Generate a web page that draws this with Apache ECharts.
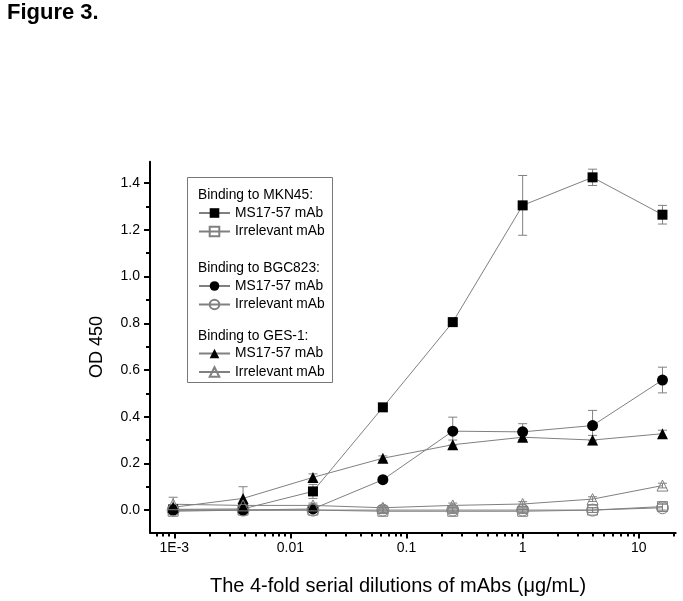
<!DOCTYPE html>
<html><head><meta charset="utf-8">
<script src="https://cdn.jsdelivr.net/npm/echarts@6/dist/echarts.min.js"></script>
<style>html,body{margin:0;padding:0;background:#fff}#c{width:683px;height:601px}</style>
</head><body><div id="c"></div>
<script>
// ---- data ----
const xValues = [0.0009765625, 0.00390625, 0.015625, 0.0625, 0.25, 1, 4, 16];

const mkn45Ms17      = [0.003, 0.005, 0.08, 0.44, 0.805, 1.305, 1.425, 1.265];
const mkn45Ms17Err   = [0.006, 0.006, 0.03, 0.008, 0.01, 0.128, 0.035, 0.04];
const mkn45Irr       = [-0.005, 0.0, 0.0, -0.005, -0.005, -0.005, 0.0, 0.015];
const mkn45IrrErr    = [0.01, 0.008, 0.008, 0.01, 0.01, 0.01, 0.01, 0.015];

const bgc823Ms17     = [0.0, 0.0, 0.005, 0.13, 0.338, 0.335, 0.362, 0.557];
const bgc823Ms17Err  = [0.005, 0.005, 0.005, 0.01, 0.06, 0.035, 0.065, 0.055];
const bgc823Irr      = [0.0, 0.0, 0.0, 0.0, 0.0, 0.0, 0.0, 0.01];
const bgc823IrrErr   = [0.01, 0.01, 0.01, 0.01, 0.01, 0.01, 0.01, 0.015];

const ges1Ms17       = [0.012, 0.05, 0.14, 0.222, 0.28, 0.312, 0.3, 0.327];
const ges1Ms17Err    = [0.005, 0.05, 0.015, 0.01, 0.02, 0.01, 0.02, 0.015];
const ges1Irr        = [0.025, 0.02, 0.02, 0.01, 0.02, 0.026, 0.047, 0.105];
const ges1IrrErr     = [0.03, 0.01, 0.01, 0.01, 0.01, 0.01, 0.01, 0.01];

const xMajorTicks = [0.001, 0.01, 0.1, 1, 10];
const xMinorTicks = [0.0007, 0.0008, 0.0009,
  0.002, 0.003, 0.004, 0.005, 0.006, 0.007, 0.008, 0.009,
  0.02, 0.03, 0.04, 0.05, 0.06, 0.07, 0.08, 0.09,
  0.2, 0.3, 0.4, 0.5, 0.6, 0.7, 0.8, 0.9,
  2, 3, 4, 5, 6, 7, 8, 9, 20];
const yMajorTicks = [0, 0.2, 0.4, 0.6, 0.8, 1.0, 1.2, 1.4];
const yMinorTicks = [0.1, 0.3, 0.5, 0.7, 0.9, 1.1, 1.3];

const groupHeaders = ['Binding to MKN45:', 'Binding to BGC823:', 'Binding to GES-1:'];
const itemLabels = ['MS17-57 mAb', 'Irrelevant mAb'];

// ---- chart ----
const FONT = 'Arial, "Liberation Sans", sans-serif';
const GRAY = '#808080';

function pairs(ys, es) { return xValues.map((x, i) => es ? [x, ys[i], es[i]] : [x, ys[i]]); }

const seriesDefs = [
  {name: 'MKN45|' + itemLabels[0], y: mkn45Ms17, e: mkn45Ms17Err, symbol: 'rect', size: 10, filled: true},
  {name: 'MKN45|' + itemLabels[1], y: mkn45Irr, e: mkn45IrrErr, symbol: 'rect', size: 10, filled: false},
  {name: 'BGC823|' + itemLabels[0], y: bgc823Ms17, e: bgc823Ms17Err, symbol: 'circle', size: 11, filled: true},
  {name: 'BGC823|' + itemLabels[1], y: bgc823Irr, e: bgc823IrrErr, symbol: 'circle', size: 12, filled: false},
  {name: 'GES1|' + itemLabels[0], y: ges1Ms17, e: ges1Ms17Err, symbol: 'triangle', size: 11, filled: true},
  {name: 'GES1|' + itemLabels[1], y: ges1Irr, e: ges1IrrErr, symbol: 'triangle', size: 11, filled: false}
];

function errRender(params, api) {
  const x = api.value(0), y = api.value(1), e = api.value(2);
  const top = api.coord([x, y + e]);
  const bot = api.coord([x, y - e]);
  const hw = 4.5;
  const st = {stroke: GRAY, lineWidth: 1};
  return {type: 'group', children: [
    {type: 'line', shape: {x1: top[0], y1: top[1], x2: bot[0], y2: bot[1]}, style: st},
    {type: 'line', shape: {x1: top[0] - hw, y1: top[1], x2: top[0] + hw, y2: top[1]}, style: st},
    {type: 'line', shape: {x1: bot[0] - hw, y1: bot[1], x2: bot[0] + hw, y2: bot[1]}, style: st}
  ]};
}

const series = [];
seriesDefs.forEach(d => {
  series.push({
    type: 'custom', name: d.name + '_err', renderItem: errRender,
    data: pairs(d.y, d.e), encode: {x: 0, y: 1}, z: 1, silent: true
  });
});
seriesDefs.forEach(d => {
  series.push({
    type: 'line', name: d.name, data: pairs(d.y),
    symbol: d.symbol, symbolSize: d.size, showAllSymbol: true,
    lineStyle: {color: GRAY, width: 1},
    itemStyle: d.filled ? {color: '#000', borderColor: '#000', borderWidth: 0}
                        : {color: 'rgba(255,255,255,0)', borderColor: GRAY, borderWidth: 1},
    z: 3, animation: false
  });
});

const legendTops = [206, 279, 346.5];
const headerYs = [195, 268.5, 336];
const legends = [0, 1, 2].map(g => ({
  orient: 'vertical', left: 198, top: legendTops[g], padding: 0,
  itemWidth: 31, itemHeight: 12, itemGap: 4.5, selectedMode: false,
  data: [seriesDefs[g * 2].name, seriesDefs[g * 2 + 1].name],
  formatter: n => n.split('|')[1],
  textStyle: {fontSize: 13.8, color: '#000', fontFamily: FONT, lineHeight: 14}
}));

const graphics = [
  {type: 'rect', shape: {x: 187.5, y: 177.5, width: 145, height: 205},
   style: {fill: 'none', stroke: '#777', lineWidth: 1}, z: 0},
  {type: 'text', x: 398, y: 586,
   style: {text: 'The 4-fold serial dilutions of mAbs (μg/mL)', font: '20px ' + FONT,
           fill: '#000', textAlign: 'center', textVerticalAlign: 'middle'}}
].concat(groupHeaders.map((h, i) => ({
  type: 'text', x: 198, y: headerYs[i],
  style: {text: h, font: '13.8px ' + FONT, fill: '#000', textAlign: 'left', textVerticalAlign: 'middle'}
})));

const xMin = 0.000617, xMax = 20.8, yMin = -0.096, yMax = 1.492;
const chart = echarts.init(document.getElementById('c'), null, {renderer: 'canvas'});
chart.setOption({
  animation: false,
  backgroundColor: '#fff',
  title: {text: 'Figure 3.', left: 7, top: 2, padding: 0,
          textStyle: {fontSize: 22, fontWeight: 'bold', color: '#000', fontFamily: FONT}},
  grid: {left: 150, right: 7.3, top: 161.7, bottom: 68.5},
  xAxis: [
    {type: 'log', logBase: 10, min: xMin, max: xMax, gridIndex: 0, position: 'bottom',
     axisLine: {onZero: false, lineStyle: {color: '#000', width: 2}},
     axisTick: {customValues: xMajorTicks, length: 6, lineStyle: {color: '#000', width: 2}},
     axisLabel: {customValues: xMajorTicks, fontSize: 14, color: '#000', fontFamily: FONT, margin: 9,
                 formatter: v => (v < 0.005 ? '1E-3' : String(+Number(v).toPrecision(3)))},
     splitLine: {show: false}},
    {type: 'log', logBase: 10, min: xMin, max: xMax, gridIndex: 0, position: 'bottom',
     axisLine: {show: false, onZero: false},
     axisTick: {customValues: xMinorTicks, length: 4, lineStyle: {color: '#000', width: 2}},
     axisLabel: {show: false}, splitLine: {show: false}}
  ],
  yAxis: [
    {type: 'value', min: yMin, max: yMax, gridIndex: 0, position: 'left',
     name: 'OD 450', nameLocation: 'middle', nameRotate: 90, nameGap: 44,
     nameTextStyle: {fontSize: 18, color: '#000', fontFamily: FONT},
     axisLine: {show: true, onZero: false, lineStyle: {color: '#000', width: 2}},
     axisTick: {show: true, customValues: yMajorTicks, length: 6, lineStyle: {color: '#000', width: 2}},
     axisLabel: {customValues: yMajorTicks, fontSize: 14, color: '#000', fontFamily: FONT, margin: 10,
                 formatter: v => Number(v).toFixed(1)},
     splitLine: {show: false}},
    {type: 'value', min: yMin, max: yMax, gridIndex: 0, position: 'left',
     axisLine: {show: false, onZero: false},
     axisTick: {show: true, customValues: yMinorTicks, length: 4, lineStyle: {color: '#000', width: 2}},
     axisLabel: {show: false}, splitLine: {show: false}}
  ],
  legend: legends,
  graphic: graphics,
  series: series
});
</script>
</body></html>
